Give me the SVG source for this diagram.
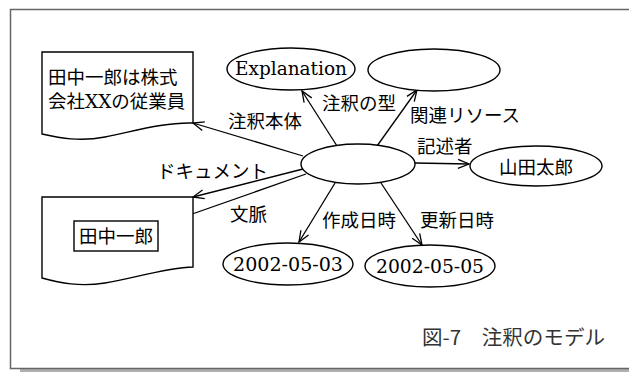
<svg xmlns="http://www.w3.org/2000/svg" width="629" height="372" viewBox="0 0 629 372">
<defs>
<style>
.jp{font-family:"Noto Sans CJK JP","Noto Sans CJK SC",sans-serif;font-size:18.5px;fill:#000}
.sf{font-family:"DejaVu Serif","Liberation Serif",serif;font-size:18.5px;fill:#000}
.node{fill:#fff;stroke:#000;stroke-width:1.4}
.edge{fill:none;stroke:#000;stroke-width:1.3}
.cap{font-family:"Noto Sans CJK JP","Noto Sans CJK SC",sans-serif;font-size:20px;fill:#333}
</style>
<marker id="arr" markerUnits="userSpaceOnUse" markerWidth="14" markerHeight="12" viewBox="-12 -6 14 12" refX="0" refY="0" orient="auto">
<path d="M-11,-4.5 L0,0 L-11,4.5" fill="none" stroke="#000" stroke-width="1.3"/>
</marker>
</defs>
<rect width="629" height="372" fill="#fff"/>
<g id="frame">
<rect x="20" y="369" width="609" height="3" fill="#b0b0b0"/>
<path d="M629,9.5 H10.5 V368.5 H629" fill="none" stroke="#666" stroke-width="1.5"/>
</g>
<g id="connectors">
<line class="edge" x1="303" y1="156" x2="193" y2="123" marker-end="url(#arr)"/>
<line class="edge" x1="303" y1="169" x2="193" y2="197" marker-end="url(#arr)"/>
<line class="edge" x1="306" y1="174" x2="158" y2="226" marker-end="url(#arr)"/>
<line class="edge" x1="337" y1="146" x2="302" y2="91" marker-end="url(#arr)"/>
<line class="edge" x1="377" y1="146" x2="417" y2="90" marker-end="url(#arr)"/>
<line class="edge" x1="415" y1="163" x2="469" y2="164" marker-end="url(#arr)"/>
<line class="edge" x1="335" y1="183" x2="299" y2="242" marker-end="url(#arr)"/>
<line class="edge" x1="381" y1="183" x2="422" y2="245" marker-end="url(#arr)"/>
<text class="jp" x="228" y="128">注釈本体</text>
<text class="jp" x="157" y="178">ドキュメント</text>
<text class="jp" x="230" y="221">文脈</text>
<text class="jp" x="322" y="110">注釈の型</text>
<text class="jp" x="410" y="122">関連リソース</text>
<text class="jp" x="417" y="153">記述者</text>
<text class="jp" x="322" y="227">作成日時</text>
<text class="jp" x="420" y="227">更新日時</text>
</g>
<g id="doc1">
<path class="node" d="M42,52 H193 V123 C165,122 135,131 105,137 C80,142 60,138 42,134 Z"/>
<text class="jp" x="48" y="84">田中一郎は株式</text>
<text class="jp" x="48" y="108">会社<tspan class="sf" font-size="18">XX</tspan>の従業員</text>
</g>
<g id="doc2">
<path class="node" d="M42,197 H193 V267 C165,268 135,278 105,283 C80,287 60,283 42,278 Z"/>
<rect class="node" x="74" y="221" width="84" height="30"/>
<text class="jp" x="79" y="243">田中一郎</text>
</g>
<g id="center">
<ellipse class="node" cx="358" cy="164" rx="57" ry="20"/>
</g>
<g id="explanation">
<ellipse class="node" cx="291" cy="69" rx="64" ry="21"/>
<text class="sf" x="291" y="75" text-anchor="middle" textLength="112" lengthAdjust="spacingAndGlyphs">Explanation</text>
</g>
<g id="related">
<ellipse class="node" cx="434" cy="70" rx="66" ry="21"/>
</g>
<g id="author">
<ellipse class="node" cx="536" cy="166" rx="66" ry="20"/>
<text class="jp" x="536" y="174" text-anchor="middle">山田太郎</text>
</g>
<g id="created">
<ellipse class="node" cx="288" cy="264" rx="65" ry="21"/>
<text class="sf" x="288" y="271" text-anchor="middle" textLength="110" lengthAdjust="spacingAndGlyphs">2002-05-03</text>
</g>
<g id="updated">
<ellipse class="node" cx="430" cy="266" rx="65" ry="21"/>
<text class="sf" x="430" y="273" text-anchor="middle" textLength="108" lengthAdjust="spacingAndGlyphs">2002-05-05</text>
</g>
<text class="cap" x="422" y="345" textLength="183" lengthAdjust="spacingAndGlyphs">図-7　注釈のモデル</text>
</svg>
